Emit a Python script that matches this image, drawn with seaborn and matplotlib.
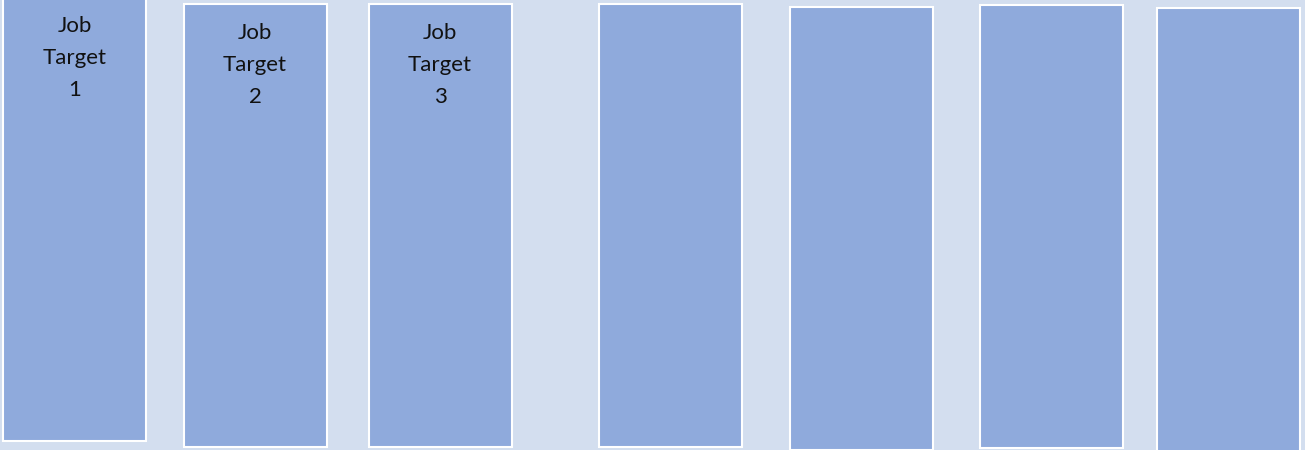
import matplotlib
matplotlib.use("Agg")
import matplotlib.pyplot as plt
import seaborn as sns
import pandas as pd

# Data (pixel-row units, y grows downward like the picture)
bar_labels = ["Job\nTarget\n1", "Job\nTarget\n2", "Job\nTarget\n3", "", "", "", ""]
bar_center = [74.5, 255, 440, 670.5, 861, 1051, 1228]
bar_top = [-3, 4, 4, 4, 6.5, 5, 8]
bar_bottom = [441, 447, 447, 447, 450, 448, 456]

sns.set_theme(style="white")
plt.rcParams["font.family"] = ["Lato", "DejaVu Sans"]

df = pd.DataFrame({
    "x": bar_center,
    "top": bar_top,
    "height": [b - t for b, t in zip(bar_bottom, bar_top)],
})

fig = plt.figure(figsize=(13.05, 4.5), dpi=100)
bg = "#D3DEEF"
fig.patch.set_facecolor(bg)
ax = fig.add_axes([0, 0, 1, 1])
ax.set_facecolor(bg)

sns.barplot(data=df, x="x", y="height", native_scale=True, width=143 / 177,
            bottom=df["top"].to_numpy(), color="#8FAADC", saturation=1,
            edgecolor="white", linewidth=1.5, errorbar=None, ax=ax)

for xc, t, lab in zip(bar_center, bar_top, bar_labels):
    if lab:
        ax.text(xc, t + 61, lab, ha="center", va="center", fontsize=16,
                linespacing=1.75, color="#111111")

ax.set_xlim(0, 1305)
ax.set_ylim(450, 0)
ax.set_axis_off()
fig.savefig("out.png", dpi=100, facecolor=bg)
